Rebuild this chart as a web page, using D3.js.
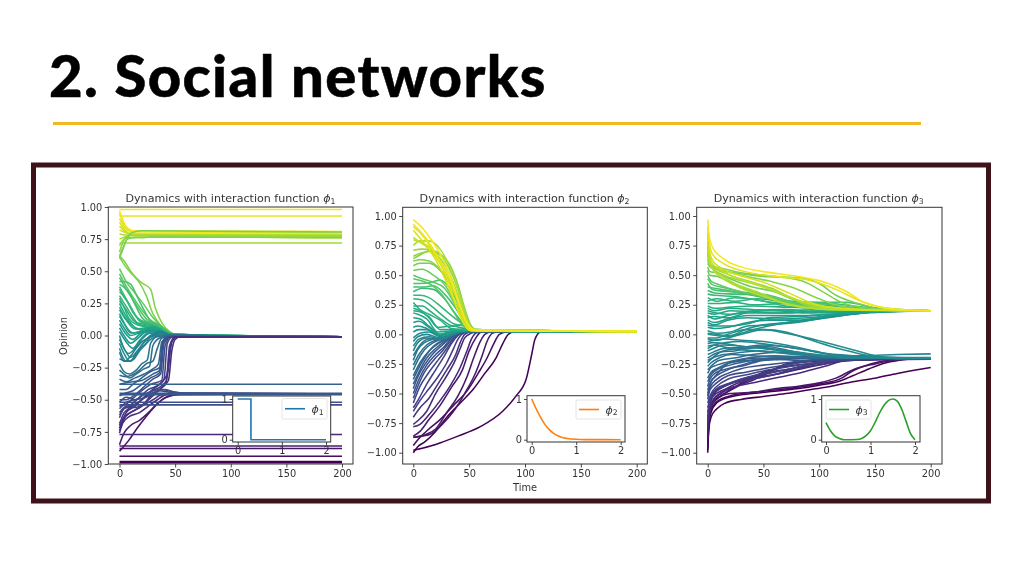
<!DOCTYPE html>
<html><head><meta charset="utf-8">
<script src="https://cdn.jsdelivr.net/npm/d3@7"></script>
<style>html,body{margin:0;padding:0;background:#fff;overflow:hidden}svg{display:block}</style>
</head><body><svg id="c" width="1024" height="576"></svg>
<script>
const heading = "2. Social networks";
const chartTitle = "Dynamics with interaction function ";
const yTicksMain = [-1,-0.75,-0.5,-0.25,0,0.25,0.5,0.75,1];
const xTicksMain = [0,50,100,150,200];

// Panel 1 : opinions, knots are t,y,t,y...
const p1Flat = [0.98,0.93,0.72,-0.38,-0.45,-0.46,-0.52,-0.54,-0.77,-0.86,-0.88,-0.94,-0.98,-0.99];
const p1Upper = [
 [0,.97,3,.9,6,.84,12,.815,200,.81],[0,.95,4,.87,8,.83,15,.805,200,.80],[0,.91,5,.84,10,.805,20,.79,200,.79],
 [0,.88,4,.83,10,.79,200,.78],[0,.85,5,.81,15,.78,200,.775],[0,.82,6,.8,14,.775,200,.77],[0,.79,8,.78,200,.76],
 [0,.75,6,.77,18,.78,200,.775],[0,.70,3,.74,8,.78,200,.78],[0,.65,2,.7,6,.76,20,.76,30,.77,200,.76],
 [0,.62,3,.68,7,.75,15,.765,200,.765],[0,.6,3,.67,6,.74,11,.8,20,.815,200,.805]];
const p1ToZero = [
 [0,.62,5,.57,10,.5,15,.45,20,.41,28,.36,32,.22,38,.1,45,.03,54,0],[0,.61,6,.53,12,.47,18,.41,24,.31,30,.17,36,.09,42,.04,50,.005,56,0],
 [0,.52,6,.42,14,.33,22,.24,30,.14,38,.07,46,.02,54,0],[0,.48,5,.4,12,.3,20,.2,28,.12,36,.08,44,.03,52,0],
 [0,.45,6,.36,12,.28,18,.2,26,.11,34,.07,42,.03,50,0],[0,.42,4,.42,10,.4,16,.3,22,.2,28,.11,36,.08,44,.03,52,0],
 [0,.40,8,.34,14,.24,20,.14,28,.09,36,.07,44,.02,52,0],[0,.38,5,.3,10,.22,16,.14,24,.1,34,.06,42,.02,50,0],
 [0,.36,4,.3,9,.24,14,.16,20,.1,30,.09,38,.05,46,.01],[0,.34,6,.28,12,.18,18,.12,26,.09,36,.06,46,.01],
 [0,.31,5,.24,10,.17,16,.1,26,.08,38,.03,46,0],[0,.29,4,.22,8,.14,14,.09,22,.07,34,.05,44,.01],
 [0,.27,6,.2,12,.12,20,.08,30,.07,40,.03,48,0],[0,.25,4,.18,9,.11,16,.05,26,.05,36,.05,44,.01],
 [0,.22,5,.14,10,.09,18,.05,30,.06,40,.02,48,0],[0,.2,6,.12,14,.05,24,.06,36,.05,46,.005],
 [0,.17,4,.1,10,.02,20,.03,30,.07,40,.03,48,0],[0,.15,5,.08,12,.02,22,.04,34,.04,44,.01],
 [0,.12,4,.06,10,0,18,.02,28,.05,38,.03,46,0],[0,.09,5,.02,12,-.03,20,.02,30,.03,42,.01],
 [0,.06,4,0,10,-.06,18,-.01,26,.04,36,.03,46,0],[0,.03,6,-.05,12,-.1,18,-.04,26,.02,38,.02,46,0],
 [0,0,3,-.08,8,-.14,14,-.1,20,-.03,28,.02,40,.01,48,0],[0,-.03,4,-.1,10,-.17,16,-.12,22,-.05,30,.01,42,0],
 [0,-.06,4,-.14,9,-.2,15,-.15,20,-.08,26,-.02,36,.01,46,0],[0,-.1,3,-.17,6,-.2,12,-.19,18,-.12,24,-.06,28,-.01,40,.01,48,0],
 [0,-.13,4,-.2,10,-.2,16,-.12,22,-.08,28,-.03,36,0,46,0],[0,-.18,5,-.2,10,-.16,15,-.1,20,-.05,28,-.01,36,.03,44,.01,52,0],
 [0,-.22,4,-.28,9,-.3,15,-.27,20,-.22,25,-.19,28,-.06,34,-.01,46,0],[0,-.27,4,-.3,9,-.33,15,-.3,22,-.26,27,-.24,30,-.08,36,-.02,46,0],
 [0,-.31,5,-.32,11,-.31,18,-.27,24,-.22,30,-.2,34,-.1,38,-.02,48,0],[0,-.34,6,-.36,14,-.33,22,-.3,30,-.26,35,-.22,38,-.05,44,-.01,50,0],
 [0,-.38,5,-.37,12,-.36,20,-.35,30,-.3,36,-.27,39,-.08,43,-.02,50,0],[0,-.42,6,-.42,12,-.38,20,-.33,28,-.28,36,-.25,39,-.04,44,-.01],
 [0,-.47,5,-.45,12,-.43,20,-.38,28,-.33,36,-.29,39,-.05,44,-.01],[0,-.5,6,-.5,14,-.46,22,-.4,30,-.34,37,-.3,40,-.06,46,-.01],
 [0,-.55,5,-.54,12,-.49,20,-.43,28,-.38,38,-.35,41,-.08,46,-.01],[0,-.6,4,-.56,10,-.54,18,-.48,26,-.42,36,-.38,40,-.34,43,-.06,48,-.01],
 [0,-.64,4,-.57,10,-.55,20,-.5,28,-.44,38,-.39,42,-.35,45,-.08,50,-.01],[0,-.7,3,-.62,8,-.57,16,-.53,26,-.46,36,-.42,42,-.36,46,-.08,50,-.01],
 [0,-.72,6,-.6,14,-.55,22,-.48,30,-.42,36,-.38,43,-.3,47,-.05,52,-.01],[0,-.74,4,-.65,10,-.6,20,-.55,28,-.47,36,-.42,44,-.35,47,-.12,50,-.03,55,-.01]];
const p1ToLower = [
 [0,-.9,8,-.82,16,-.72,24,-.63,32,-.55,40,-.49,50,-.46,60,-.455],[0,-.85,4,-.76,10,-.7,18,-.66,26,-.6,34,-.53,42,-.48,52,-.46],
 [0,-.76,3,-.68,9,-.63,18,-.6,26,-.55,34,-.5,42,-.46,52,-.455],[0,-.68,6,-.62,14,-.58,22,-.54,30,-.5,38,-.46,50,-.45],
 [0,-.62,6,-.56,14,-.56,22,-.53,30,-.47,36,-.43,44,-.44,54,-.45],[0,-.57,6,-.52,14,-.5,24,-.48,32,-.44,40,-.42,50,-.44,58,-.45],
 [0,-.52,6,-.48,14,-.5,22,-.46,30,-.43,38,-.42,48,-.44,58,-.45]];

// Panel 2 : all end on the consensus
const p2End = 0.025;
const p2Lines = [
 [0,-.98,20,-.93,40,-.86,60,-.78,80,-.65,92,-.52,101,-.38,106,-.17,109,-.04,114,.02],
 [0,-1,4,-.95,10,-.91,20,-.82,30,-.7,42,-.58,54,-.46,64,-.33,74,-.2,80,-.08,85,.0,90,.02],
 [0,-.94,6,-.87,14,-.8,24,-.72,36,-.6,48,-.48,58,-.33,66,-.2,72,-.08,77,0,84,.02],
 [0,-.87,8,-.86,16,-.84,26,-.76,36,-.65,46,-.5,56,-.32,62,-.17,66,-.06,71,.01,78,.025],
 [0,-.87,10,-.85,20,-.8,30,-.66,40,-.52,48,-.36,54,-.2,60,-.06,64,0,70,.02],
 [0,-.86,6,-.82,14,-.72,24,-.6,34,-.45,44,-.3,50,-.14,56,-.03,60,.015,66,.025],
 [0,-.78,6,-.76,14,-.68,24,-.56,34,-.42,42,-.28,48,-.14,52,-.04,56,.01,62,.025],
 [0,-.76,4,-.73,12,-.65,20,-.5,28,-.38,36,-.25,42,-.12,46,-.03,52,.01,58,.025],
 [0,-.7,6,-.62,14,-.54,22,-.42,30,-.3,38,-.17,42,-.07,46,0,52,.02],
 [0,-.65,6,-.56,14,-.46,22,-.36,30,-.24,36,-.12,40,-.04,45,.01,52,.025],
 [0,-.62,4,-.56,12,-.42,20,-.3,28,-.18,34,-.08,40,-.01,46,.02],
 [0,-.58,6,-.44,14,-.32,22,-.22,30,-.12,36,-.04,42,.01,50,.025],
 [0,-.54,4,-.44,10,-.32,18,-.22,26,-.14,34,-.05,40,0,48,.02],
 [0,-.5,6,-.36,12,-.26,20,-.17,28,-.1,34,-.03,40,.01,48,.025],
 [0,-.46,4,-.36,10,-.26,18,-.16,26,-.09,34,-.02,42,.02],
 [0,-.42,6,-.3,12,-.2,20,-.12,28,-.06,36,-.01,44,.02],
 [0,-.38,4,-.3,10,-.2,18,-.1,26,-.05,36,0,46,.025],
 [0,-.35,6,-.24,14,-.14,22,-.08,30,-.04,38,.01,48,.025],
 [0,-.3,4,-.22,10,-.13,18,-.07,28,-.03,40,.015,50,.025],
 [0,-.26,5,-.17,12,-.09,20,-.05,30,-.02,42,.02,52,.025],
 [0,-.22,4,-.13,10,-.07,18,-.04,28,-.02,38,.01,50,.03],
 [0,-.18,6,-.09,14,-.04,24,-.04,34,-.01,44,.025,54,.03],
 [0,-.14,4,-.07,12,-.03,22,-.04,34,-.01,46,.03,60,.03],
 [0,-.1,5,-.04,14,-.02,26,-.04,38,.01,50,.035,64,.03],
 [0,-.06,4,-.02,12,0,24,-.03,38,.01,50,.035,70,.03],
 [0,-.03,6,.01,14,.02,24,-.02,36,.01,48,.04,66,.03],
 [0,.02,5,.04,12,.04,24,-.01,36,.02,50,.04,72,.03],
 [0,.06,4,.07,12,.05,24,-.01,36,.025,50,.04,80,.03],
 [0,.1,5,.11,14,.06,24,0,36,.03,52,.035,78,.03],
 [0,.14,6,.13,14,.07,24,0,38,.03,56,.035,90,.025],
 [0,.18,4,.17,12,.13,22,.02,36,.03,54,.035,100,.02],
 [0,.2,6,.19,14,.15,24,.04,36,.04,58,.035,105,.02],
 [0,.22,6,.2,14,.14,22,.06,34,.07,46,.05,60,.03],
 [0,.24,8,.24,16,.19,26,.12,36,.07,44,.08,52,.04,64,.03],
 [0,.27,6,.21,14,.17,24,.12,34,.05,46,.04,60,.03],
 [0,.3,8,.29,16,.24,26,.16,36,.09,46,.07,54,.04],
 [0,.33,6,.33,14,.31,24,.24,34,.16,44,.09,54,.04],
 [0,.36,8,.39,18,.38,28,.3,38,.17,46,.08,56,.035],
 [0,.4,8,.4,18,.41,28,.34,38,.22,46,.1,54,.04],
 [0,.43,6,.43,16,.44,24,.46,34,.37,42,.22,50,.07,56,.03],
 [0,.47,8,.45,16,.42,26,.33,36,.19,44,.08,52,.03],
 [0,.5,8,.47,18,.44,28,.39,38,.24,46,.1,54,.03],
 [0,.54,8,.55,18,.5,28,.42,38,.26,46,.11,54,.04],
 [0,.58,6,.6,14,.6,24,.54,34,.4,44,.18,52,.05,58,.03],
 [0,.62,6,.63,14,.62,24,.55,34,.42,42,.24,50,.07,56,.03],
 [0,.64,6,.67,16,.71,24,.68,32,.6,40,.42,46,.22,52,.07,58,.03],
 [0,.66,8,.69,16,.7,24,.67,32,.56,40,.38,46,.19,52,.06,58,.03],
 [0,.71,8,.72,16,.71,24,.64,32,.52,40,.33,46,.15,52,.05,58,.03],
 [0,.75,6,.79,14,.79,24,.72,34,.54,42,.32,48,.13,54,.04],
 [0,.8,6,.78,14,.72,24,.6,32,.45,40,.28,46,.13,52,.04],
 [0,.82,6,.78,14,.74,22,.65,30,.52,38,.33,44,.13,50,.04],
 [0,.88,8,.79,16,.69,24,.56,32,.39,40,.2,46,.08,52,.03],
 [0,.91,8,.84,16,.73,24,.6,32,.43,40,.2,46,.08,52,.03],
 [0,.93,8,.85,16,.75,24,.62,32,.48,40,.28,46,.12,52,.04],
 [0,.97,8,.9,16,.8,24,.68,32,.52,40,.3,46,.14,52,.05,58,.03]];

// Panel 3 : two clusters
const p3Lines = [
 [0,-1,1,-.8,3,-.7,8,-.63,16,-.58,30,-.55,50,-.525,70,-.5,90,-.47,110,-.44,130,-.4,150,-.37,170,-.33,200,-.28],
 [0,-.98,1,-.78,3,-.66,8,-.58,20,-.53,40,-.5,60,-.48,80,-.46,100,-.43,120,-.39,130,-.35,145,-.29,160,-.24,180,-.21,200,-.2],
 [0,-.96,1,-.76,3,-.64,8,-.57,20,-.52,40,-.49,60,-.47,80,-.45,100,-.42,120,-.37,128,-.32,140,-.27,155,-.23,175,-.21,200,-.205],
 [0,-.88,1,-.7,3,-.62,8,-.55,20,-.5,40,-.49,60,-.46,80,-.44,100,-.41,115,-.37,130,-.3,150,-.25,170,-.215,200,-.2],
 [0,-.86,1,-.68,4,-.58,10,-.53,20,-.47,40,-.36,60,-.29,80,-.26,100,-.24,130,-.21,200,-.2],
 [0,-.87,2,-.66,5,-.57,12,-.52,25,-.45,40,-.37,60,-.3,75,-.25,100,-.225,130,-.21,200,-.2],
 [0,-.8,2,-.64,5,-.56,12,-.5,25,-.44,40,-.39,55,-.32,70,-.25,100,-.22,200,-.2],
 [0,-.78,2,-.62,5,-.55,12,-.49,25,-.42,40,-.38,60,-.34,80,-.3,105,-.25,125,-.22,200,-.205],
 [0,-.76,2,-.6,5,-.52,14,-.47,25,-.44,45,-.4,65,-.36,85,-.32,105,-.27,125,-.22,200,-.2],
 [0,-.72,2,-.58,6,-.5,14,-.44,25,-.4,45,-.36,65,-.33,85,-.28,105,-.25,125,-.22,200,-.21],
 [0,-.7,2,-.56,6,-.48,14,-.44,30,-.38,50,-.34,70,-.3,90,-.26,110,-.23,200,-.2],
 [0,-.66,3,-.52,8,-.48,20,-.42,40,-.38,60,-.34,80,-.28,100,-.24,125,-.215,200,-.205],
 [0,-.62,3,-.52,8,-.46,20,-.41,36,-.36,55,-.32,75,-.29,95,-.25,120,-.22,200,-.2],
 [0,-.58,3,-.5,8,-.44,18,-.38,36,-.34,55,-.3,75,-.27,95,-.24,120,-.21,200,-.2],
 [0,-.55,2,-.47,8,-.41,18,-.35,34,-.32,50,-.29,70,-.26,90,-.23,120,-.21,200,-.2],
 [0,-.52,2,-.45,8,-.38,18,-.33,30,-.29,50,-.26,70,-.24,90,-.22,120,-.205,200,-.2],
 [0,-.5,3,-.4,8,-.35,18,-.3,30,-.26,45,-.22,60,-.2,80,-.2,120,-.2,200,-.2],
 [0,-.47,3,-.4,8,-.34,16,-.26,28,-.22,45,-.2,60,-.21,80,-.22,120,-.2,200,-.2],
 [0,-.44,2,-.38,8,-.32,18,-.29,34,-.26,50,-.22,70,-.21,100,-.2,200,-.2],
 [0,-.4,3,-.34,8,-.3,20,-.26,34,-.23,55,-.2,80,-.2,110,-.2,200,-.21],
 [0,-.37,3,-.32,8,-.29,20,-.24,36,-.22,60,-.21,90,-.19,125,-.2,200,-.205],
 [0,-.33,3,-.28,8,-.26,20,-.23,36,-.2,60,-.18,90,-.19,125,-.2,200,-.2],
 [0,-.3,4,-.26,10,-.22,24,-.2,40,-.17,70,-.15,100,-.18,130,-.195,200,-.195],
 [0,-.27,3,-.24,10,-.2,22,-.17,40,-.18,70,-.19,100,-.2,200,-.2],
 [0,-.24,3,-.21,10,-.18,24,-.16,44,-.14,70,-.16,100,-.19,130,-.2,200,-.2],
 [0,-.22,4,-.2,12,-.15,24,-.14,46,-.11,70,-.14,100,-.18,130,-.2,200,-.2],
 [0,-.2,5,-.17,14,-.14,30,-.12,50,-.1,80,-.15,110,-.19,200,-.2],
 [0,-.17,5,-.15,14,-.12,30,-.11,50,-.09,80,-.12,110,-.17,130,-.195,200,-.2],
 [0,-.14,5,-.12,14,-.09,30,-.1,50,-.12,80,-.16,110,-.19,200,-.2],
 [0,-.12,6,-.09,16,-.07,30,-.06,50,-.08,80,-.12,105,-.16,130,-.18,200,-.2],
 [0,-.1,6,-.09,16,-.11,30,-.13,50,-.14,80,-.17,110,-.18,140,-.18,170,-.17,200,-.165],
 [0,-.08,4,-.07,16,-.08,30,-.1,50,-.12,80,-.15,110,-.18,200,-.2],
 [0,-.06,6,-.05,16,-.04,30,-.05,50,-.06,70,-.09,90,-.13,110,-.17,122,-.2,200,-.2],
 [0,-.04,8,-.05,18,-.03,34,.01,50,.04,70,.02,90,-.04,110,-.1,130,-.15,150,-.19,170,-.205,200,-.2],
 [0,-.03,8,-.03,18,.0,34,.04,50,.04,70,.01,90,-.03,110,-.08,130,-.13,150,-.18,170,-.2,200,-.2],
 [0,0,8,-.01,18,-.02,30,.01,45,.05,65,.09,90,.12,120,.16,150,.19,200,.2],
 [0,.01,8,.0,20,-.01,36,.05,50,.08,70,.1,100,.13,130,.17,160,.195,200,.2],
 [0,.03,8,.01,20,.02,36,.07,55,.08,80,.1,110,.15,140,.18,200,.2],
 [0,.06,6,.05,18,.06,36,.1,55,.12,80,.12,110,.16,150,.19,200,.2],
 [0,.08,6,.07,18,.07,36,.09,55,.14,80,.15,110,.17,150,.195,200,.2],
 [0,.1,6,.08,18,.12,36,.14,60,.13,90,.14,120,.17,160,.195,200,.2],
 [0,.12,6,.1,18,.13,36,.16,60,.16,90,.16,125,.18,170,.2,200,.2],
 [0,.14,6,.15,18,.14,36,.18,60,.18,90,.19,130,.19,200,.2],
 [0,.16,6,.13,18,.16,36,.19,60,.2,90,.18,130,.19,200,.2],
 [0,.18,6,.17,20,.2,40,.19,70,.18,100,.2,140,.2,200,.2],
 [0,.2,8,.18,20,.17,40,.2,70,.21,100,.19,140,.2,200,.2],
 [0,.22,6,.2,20,.22,40,.21,70,.2,100,.21,140,.205,200,.2],
 [0,.24,6,.22,20,.23,40,.24,70,.23,100,.22,140,.21,200,.2],
 [0,.26,8,.26,24,.27,40,.25,70,.26,100,.23,140,.21,200,.2],
 [0,.28,8,.3,24,.28,45,.3,70,.27,100,.25,130,.22,200,.2],
 [0,.31,8,.28,24,.31,45,.29,70,.24,100,.22,140,.205,200,.2],
 [0,.34,6,.33,24,.32,50,.28,80,.25,110,.23,150,.21,200,.2],
 [0,.37,6,.35,24,.34,50,.33,80,.27,110,.26,150,.22,200,.2],
 [0,.4,6,.39,24,.36,50,.31,75,.28,105,.27,125,.27,150,.225,200,.2],
 [0,.43,4,.38,20,.36,45,.33,70,.28,100,.26,140,.22,200,.2],
 [0,.47,4,.42,12,.4,30,.36,55,.33,80,.26,110,.22,150,.205,200,.2],
 [0,.5,3,.45,10,.42,30,.36,55,.31,80,.25,105,.22,150,.2,200,.2],
 [0,.54,2,.5,8,.49,20,.44,40,.36,60,.31,80,.25,100,.21,200,.2],
 [0,.57,2,.53,8,.52,20,.47,40,.4,60,.36,75,.3,90,.24,110,.215,200,.2],
 [0,.6,2,.57,8,.55,24,.52,50,.49,80,.48,100,.43,115,.33,135,.26,160,.21,200,.2],
 [0,.62,3,.58,12,.56,30,.52,60,.49,85,.45,105,.35,120,.27,145,.22,200,.2],
 [0,.64,2,.58,10,.55,30,.5,55,.45,75,.4,100,.3,115,.25,140,.21,200,.2],
 [0,.68,2,.58,8,.53,20,.48,40,.43,60,.37,80,.29,100,.24,130,.21,200,.2],
 [0,.7,2,.6,8,.55,20,.5,40,.44,60,.38,76,.3,92,.24,120,.21,200,.2],
 [0,.74,1,.64,4,.56,12,.5,24,.43,44,.36,66,.27,84,.23,120,.21,200,.2],
 [0,.78,1,.66,4,.56,14,.47,30,.39,50,.32,70,.26,90,.225,120,.205,200,.2],
 [0,.82,1,.7,4,.6,12,.54,28,.47,50,.4,70,.33,90,.26,105,.23,150,.205,200,.2],
 [0,.86,1,.74,4,.63,12,.56,28,.5,50,.44,75,.34,92,.27,110,.23,150,.205,200,.2],
 [0,.91,1,.8,4,.68,14,.6,34,.53,60,.49,90,.46,115,.38,135,.29,155,.23,180,.205,200,.2],
 [0,.97,1,.86,4,.74,14,.64,30,.57,50,.53,80,.49,105,.44,125,.36,140,.27,155,.23,180,.205,200,.2]];

// Insets : kernel functions
const phiX1 = [0,.3,.3,2];
const phiY1 = [1,1,0,0];
const phiX2 = [0,.1,.2,.3,.4,.5,.6,.7,.8,1,1.2,2];
const phiY2 = [1,.76,.55,.37,.24,.15,.09,.05,.03,.01,.003,0];
const phiX3 = [0,.1,.2,.3,.4,.7,.8,.9,1,1.1,1.2,1.3,1.4,1.5,1.6,1.7,1.8,1.9,2];
const phiY3 = [.42,.22,.09,.03,0,.005,.03,.1,.22,.42,.65,.84,.96,1,.95,.75,.45,.15,0];

const svg = d3.select("#c");
const ink = "#333";
const fontChart = "DejaVu Sans";

svg.append("defs").append("filter").attr("id","soft").attr("x","-5%").attr("y","-5%").attr("width","110%").attr("height","110%")
  .append("feGaussianBlur").attr("stdDeviation",0.5);

svg.append("text").attr("x",49).attr("y",96.5).attr("font-family","Lato").attr("font-weight",900)
  .attr("font-size",58).attr("letter-spacing",1.4).attr("fill","#000").attr("stroke","#000").attr("stroke-width",0.5).text(heading);
svg.append("line").attr("x1",53).attr("x2",921).attr("y1",123.5).attr("y2",123.5)
  .attr("stroke","#f3b81f").attr("stroke-width",3);
svg.append("rect").attr("x",33.5).attr("y",165).attr("width",955).attr("height",336)
  .attr("fill","#fff").attr("stroke","#3d1218").attr("stroke-width",5);

const chart = svg.append("g").attr("filter","url(#soft)");

function buildLines(list, end){
  return list.map(k => {
    const pts = d3.range(0,k.length,2).map(i => [k[i],k[i+1]]);
    if (end !== undefined) pts.push([200,end]);
    return pts;
  });
}
const flatLines = vs => vs.map(v => [[0,v],[200,v]]);

const panels = [
 {box:[108.3,353,207,464], x:[119.5,342], y:[464,207], dom:[-1,1], sub:"1", tcx:230.5,
  lines:[...flatLines(p1Flat.slice(0,3)),...buildLines(p1Upper),...buildLines(p1ToZero,-0.01),...buildLines(p1ToLower,-0.455),...flatLines(p1Flat.slice(3))],
  inset:{box:[232.7,330.7,396,442],x:[237.7,326],y:[439.7,399],px:phiX1,py:phiY1,color:"#1f77b4",sub:"1",leg:[282,327,398.5,419]}},
 {box:[402.7,647.3,207.3,464], x:[413.3,636.7], y:[452.7,216], dom:[-1,1], sub:"2", tcx:524.6,
  lines:buildLines(p2Lines,p2End),
  inset:{box:[527,625,395.7,442],x:[531.7,620.7],y:[439.7,399],px:phiX2,py:phiY2,color:"#ff7f0e",sub:"2",leg:[576,621,400,419]}},
 {box:[696.7,942,207.3,464], x:[707.7,930.7], y:[452.7,216], dom:[-1,1], sub:"3", tcx:818.7,
  lines:buildLines(p3Lines),
  inset:{box:[821.7,920,395.7,442],x:[826,915],y:[439.7,399],px:phiX3,py:phiY3,color:"#2ca02c",sub:"3",leg:[826,871,400,419]}}
];
const trajWidth = 1.55;
const tickFont = 9.8;

function phiText(sel, sub, size){
  sel.append("tspan").attr("font-style","italic").text("\u03d5");
  sel.append("tspan").attr("font-size",size*0.7).attr("dy",size*0.18).text(sub);
}
function styleAxis(g, size){
  g.selectAll("path").remove();
  g.selectAll("line").attr("stroke",ink).attr("stroke-width",0.9);
  g.selectAll("text").attr("fill",ink).attr("font-family",fontChart).attr("font-size",size);
}
panels.forEach(p => {
  const x = d3.scaleLinear().domain([0,200]).range(p.x);
  const y = d3.scaleLinear().domain(p.dom).range(p.y);
  const line = d3.line().x(d=>x(d[0])).y(d=>y(d[1])).curve(d3.curveMonotoneX);
  const g = chart.append("g");
  g.selectAll("path.traj").data(p.lines).join("path").attr("class","traj")
    .attr("d",line).attr("fill","none").attr("stroke-width",trajWidth)
    .attr("stroke",d=>d3.interpolateViridis((d[0][1]+1)/2));
  g.append("rect").attr("x",p.box[0]).attr("y",p.box[2]).attr("width",p.box[1]-p.box[0]).attr("height",p.box[3]-p.box[2])
    .attr("fill","none").attr("stroke",ink).attr("stroke-width",1);
  const ax = g.append("g").attr("transform",`translate(0,${p.box[3]})`)
    .call(d3.axisBottom(x).tickValues(xTicksMain).tickSize(3.5).tickPadding(3));
  styleAxis(ax,tickFont);
  const ay = g.append("g").attr("transform",`translate(${p.box[0]},0)`)
    .call(d3.axisLeft(y).tickValues(yTicksMain).tickFormat(d3.format(".2f")).tickSize(3.5).tickPadding(2.5));
  styleAxis(ay,tickFont);
  const t = g.append("text").attr("x",p.tcx).attr("y",201.7).attr("text-anchor","middle")
    .attr("font-family",fontChart).attr("font-size",11.1).attr("fill",ink).text(chartTitle);
  phiText(t,p.sub,11.1);

  const q = p.inset;
  const ix = d3.scaleLinear().domain([0,2]).range(q.x);
  const iy = d3.scaleLinear().domain([0,1]).range(q.y);
  g.append("rect").attr("x",q.box[0]).attr("y",q.box[2]).attr("width",q.box[1]-q.box[0]).attr("height",q.box[3]-q.box[2])
    .attr("fill","#fff").attr("stroke",ink).attr("stroke-width",1);
  const iax = g.append("g").attr("transform",`translate(0,${q.box[3]})`)
    .call(d3.axisBottom(ix).tickValues([0,1,2]).tickFormat(d3.format("d")).tickSize(3).tickPadding(2.5));
  styleAxis(iax,tickFont);
  const iay = g.append("g").attr("transform",`translate(${q.box[0]},0)`)
    .call(d3.axisLeft(iy).tickValues([0,1]).tickFormat(d3.format("d")).tickSize(3).tickPadding(2));
  styleAxis(iay,tickFont);
  const pd = q.px.map((v,i)=>[v,q.py[i]]);
  g.append("path").attr("d",d3.line().x(d=>ix(d[0])).y(d=>iy(d[1])).curve(q.px.length>4?d3.curveMonotoneX:d3.curveLinear)(pd))
    .attr("fill","none").attr("stroke",q.color).attr("stroke-width",1.6);
  const L = q.leg;
  g.append("rect").attr("x",L[0]).attr("y",L[2]).attr("width",L[1]-L[0]).attr("height",L[3]-L[2]).attr("rx",1.5)
    .attr("fill","#fff").attr("stroke","#ddd").attr("stroke-width",0.8);
  g.append("line").attr("x1",L[0]+3).attr("x2",L[0]+23).attr("y1",(L[2]+L[3])/2).attr("y2",(L[2]+L[3])/2)
    .attr("stroke",q.color).attr("stroke-width",1.6);
  const lt = g.append("text").attr("x",L[0]+29.5).attr("y",(L[2]+L[3])/2+4)
    .attr("font-family",fontChart).attr("font-size",11).attr("fill",ink);
  phiText(lt,q.sub,11);
});
chart.append("text").attr("transform","translate(66.5,336) rotate(-90)").attr("text-anchor","middle")
  .attr("font-family",fontChart).attr("font-size",tickFont).attr("fill",ink).text("Opinion");
chart.append("text").attr("x",525).attr("y",490.5).attr("text-anchor","middle")
  .attr("font-family",fontChart).attr("font-size",tickFont).attr("fill",ink).text("Time");
</script></body></html>
